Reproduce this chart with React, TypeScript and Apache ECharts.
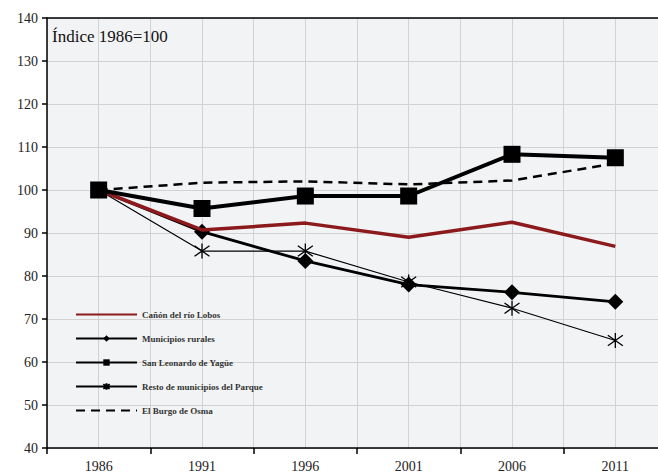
import React, { useEffect, useRef } from "react";
import * as echarts from "echarts";

const years = ["1986", "1991", "1996", "2001", "2006", "2011"];
const halfSteps = ["a", "b", "c", "d", "e", "f", "g", "h", "i", "j", "k", "l"];
const canon = [100, 90.7, 92.3, 89.0, 92.5, 86.9];
const rurales = [100, 90.3, 83.5, 78.0, 76.2, 74.0];
const sanLeonardo = [100, 95.7, 98.6, 98.6, 108.3, 107.5];
const resto = [100, 85.8, 85.8, 78.6, 72.5, 65.0];
const burgo = [100, 101.7, 102.0, 101.3, 102.2, 106.2];

const SERIF = "'Liberation Serif', 'DejaVu Serif', serif";
const ASTERISK = "path://M5,0L5,10M0,1.5L10,8.5M0,8.5L10,1.5";
const noMarker = { color: "transparent", borderWidth: 0, opacity: 0 };

export default function App() {
  const ref = useRef<HTMLDivElement>(null);
  useEffect(() => {
    if (!ref.current) return;
    const chart = echarts.init(ref.current, null, { renderer: "svg" });
    chart.setOption({
      animation: false,
      backgroundColor: "#ffffff",
      grid: {
        left: 47,
        top: 18,
        bottom: 27,
        right: 0,
        show: true,
        backgroundColor: "#f2f3f5",
        borderWidth: 0,
      },
      graphic: [
        {
          type: "text",
          left: 52,
          top: 28,
          style: { text: "Índice 1986=100", font: `17px ${SERIF}`, fill: "#111" },
        },
      ],
      legend: {
        orient: "vertical",
        left: 70,
        top: 305,
        padding: 5,
        itemWidth: 61,
        itemHeight: 8,
        itemGap: 15,
        textStyle: { fontSize: 9, fontFamily: SERIF, color: "#333", fontWeight: "bold" },
        lineStyle: { width: 2 },
        data: [
          { name: "Cañón del río Lobos", itemStyle: noMarker },
          { name: "Municipios rurales" },
          { name: "San Leonardo de Yagüe" },
          { name: "Resto de municipios del Parque" },
          { name: "El Burgo de Osma", itemStyle: noMarker },
        ],
      },
      xAxis: [
        {
          type: "category",
          data: years,
          boundaryGap: true,
          axisLine: { lineStyle: { color: "#000", width: 1.5 } },
          axisTick: { show: true, length: 6, lineStyle: { color: "#000", width: 1.5 } },
          axisLabel: { fontFamily: SERIF, fontSize: 14, color: "#222", margin: 11 },
          splitLine: { show: false },
        },
        {
          type: "category",
          data: halfSteps,
          position: "top",
          boundaryGap: true,
          axisLine: { show: true, lineStyle: { color: "#000", width: 1.5 } },
          axisTick: { show: false },
          axisLabel: { show: false },
          splitLine: { show: true, lineStyle: { color: "#d2d2d2", width: 1 } },
        },
      ],
      yAxis: {
        type: "value",
        min: 40,
        max: 140,
        interval: 10,
        axisLine: { show: true, lineStyle: { color: "#000", width: 1.5 } },
        axisTick: { show: true, length: 5, lineStyle: { color: "#000", width: 1.5 } },
        axisLabel: { fontFamily: SERIF, fontSize: 14, color: "#222", margin: 9 },
        splitLine: { show: true, lineStyle: { color: "#d2d2d2", width: 1 } },
      },
      series: [
        {
          name: "El Burgo de Osma",
          type: "line",
          data: burgo,
          symbol: "none",
          z: 2,
          lineStyle: { color: "#000", width: 2.5, type: [9, 6] },
          itemStyle: { color: "#000" },
        },
        {
          name: "Resto de municipios del Parque",
          type: "line",
          data: resto,
          symbol: ASTERISK,
          symbolSize: 15,
          z: 3,
          lineStyle: { color: "#000", width: 1.2 },
          itemStyle: { color: "#000", borderColor: "#000", borderWidth: 1.3 },
        },
        {
          name: "Municipios rurales",
          type: "line",
          data: rurales,
          symbol: "diamond",
          symbolSize: 16,
          z: 4,
          lineStyle: { color: "#000", width: 2.8 },
          itemStyle: { color: "#000" },
        },
        {
          name: "Cañón del río Lobos",
          type: "line",
          data: canon,
          symbol: "none",
          z: 5,
          lineStyle: { color: "#8c1a1c", width: 3.5 },
          itemStyle: { color: "#8c1a1c" },
        },
        {
          name: "San Leonardo de Yagüe",
          type: "line",
          data: sanLeonardo,
          symbol: "rect",
          symbolSize: 17,
          z: 6,
          lineStyle: { color: "#000", width: 4 },
          itemStyle: { color: "#000" },
        },
      ],
    });
    return () => chart.dispose();
  }, []);
  return (
    <div style={{ position: "fixed", left: 0, top: 0, width: 658, height: 475, overflow: "hidden" }}>
      <div ref={ref} style={{ position: "absolute", left: 0, top: 0, width: 667, height: 475 }} />
    </div>
  );
}
